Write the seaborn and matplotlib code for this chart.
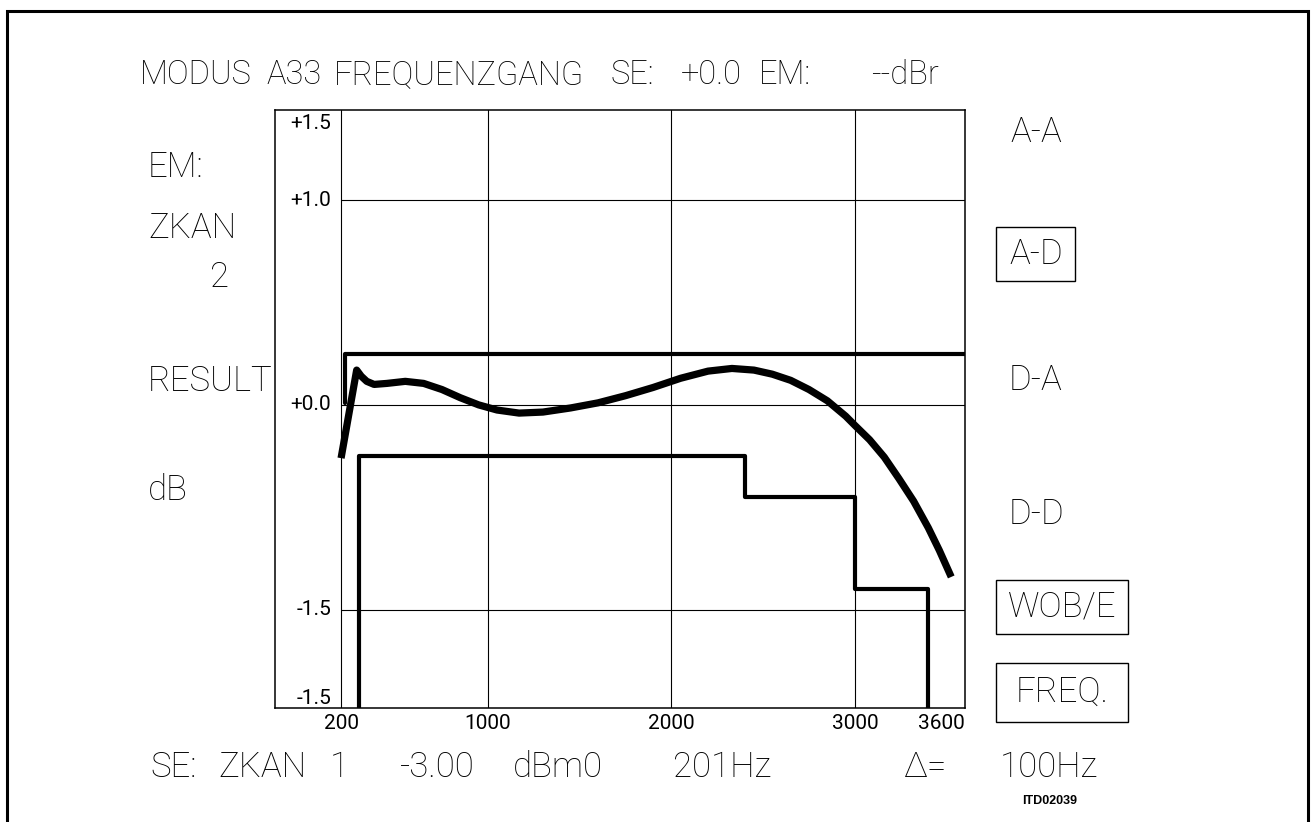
import matplotlib
matplotlib.use("Agg")
import matplotlib.pyplot as plt
from matplotlib.patches import Rectangle
import pandas as pd
import seaborn as sns

# ---- measured frequency response (Hz, dB) ----
resp_freq = [200, 285, 310, 340, 380, 450, 550, 650, 750, 850, 950, 1050, 1170,
             1300, 1450, 1600, 1750, 1900, 2050, 2200, 2330, 2450, 2550, 2650,
             2750, 2850, 2950, 3000, 3080, 3160, 3240, 3320, 3400, 3460, 3525]
resp_db = [-0.26, 0.17, 0.14, 0.115, 0.10, 0.105, 0.115, 0.105, 0.075, 0.035,
           0.0, -0.025, -0.04, -0.035, -0.015, 0.01, 0.045, 0.085, 0.13, 0.165,
           0.178, 0.17, 0.15, 0.12, 0.075, 0.02, -0.055, -0.10, -0.17, -0.255,
           -0.36, -0.47, -0.60, -0.71, -0.84]

# ---- tolerance mask ----
upper_start = 220
upper_level = 0.25
upper_floor = 0.01
lower_edges = [300, 2400, 3000, 3400]
lower_levels = [-0.25, -0.45, -0.90]

# ---- axis scale ----
x_min, x_max = -160, 3600
y_min, y_max = -1.48, 1.44
x_ticks = [200, 1000, 2000, 3000, 3600]
x_tick_labels = ["200", "1000", "2000", "3000", "3600"]
grid_x = [200, 1000, 2000, 3000]
grid_y = [1.0, 0.0, -1.0]
y_label_pos = [1.44, 1.0, 0.0, -1.0, -1.48]
y_label_txt = ["+1.5", "+1.0", "+0.0", "-1.5", "-1.5"]

# ---- screen texts ----
header = [("MODUS", 140), ("A33", 266), ("FREQUENZGANG", 334), ("SE:", 610),
          ("+0.0", 681), ("EM:", 759), ("--dBr", 871)]
left_panel = [("EM:", 148, 167), ("ZKAN", 148, 228), ("2", 210, 277),
              ("RESULT", 148, 381), ("dB", 148, 490)]
right_panel = [("A-A", 1036, 132), ("A-D", 1036, 254), ("D-A", 1036, 380),
               ("D-D", 1036, 514), ("WOB/E", 1062, 607), ("FREQ.", 1062, 692)]
footer = [("SE:", 150), ("ZKAN", 218), ("1", 330), ("-3.00", 400),
          ("dBm0", 513), ("201Hz", 673), ("\u0394=", 903), ("100Hz", 1000)]

sns.set_style("white")
FONT = ["Roboto", "DejaVu Sans"]
plt.rcParams["font.family"] = FONT
plt.rcParams["font.weight"] = "light"
plt.rcParams["text.color"] = "black"
plt.rcParams["xtick.color"] = "black"
plt.rcParams["ytick.color"] = "black"

W, H = 1311, 822
fig = plt.figure(figsize=(W / 100, H / 100), dpi=100)


def fx(x):
    return x / W


def fy(y):
    return 1 - y / H


ax = fig.add_axes([fx(275), fy(708), fx(965) - fx(275), fy(110) - fy(708)])
ax.set_xlim(x_min, x_max)
ax.set_ylim(y_min, y_max)

# grid
for gx in grid_x:
    ax.axvline(gx, color="black", lw=0.8, zorder=1)
for gy in grid_y:
    ax.hlines(gy, grid_x[0], x_max, color="black", lw=0.8, zorder=1)

# upper mask
up = pd.DataFrame({"f": [upper_start, upper_start, x_max],
                   "db": [upper_floor, upper_level, upper_level]})
sns.lineplot(data=up, x="f", y="db", sort=False, estimator=None, ax=ax,
             color="black", lw=3, zorder=3)

# lower mask (stepped)
lf, ld = [lower_edges[0]], [y_min]
for i, lev in enumerate(lower_levels):
    lf += [lower_edges[i], lower_edges[i + 1]]
    ld += [lev, lev]
lf.append(lower_edges[-1])
ld.append(y_min)
lo = pd.DataFrame({"f": lf, "db": ld})
sns.lineplot(data=lo, x="f", y="db", sort=False, estimator=None, ax=ax,
             color="black", lw=3, zorder=3)

# response curve
rs = pd.DataFrame({"f": resp_freq, "db": resp_db})
sns.lineplot(data=rs, x="f", y="db", sort=False, estimator=None, ax=ax,
             color="black", lw=5.2, zorder=4, solid_capstyle="butt")

ax.set_xlabel("")
ax.set_ylabel("")
ax.set_yticks([])
ax.set_xticks(x_ticks)
ax.set_xticklabels(x_tick_labels, fontsize=15, fontweight="normal")
ax.tick_params(axis="x", length=0, pad=4)
ax.get_xticklabels()[-1].set_horizontalalignment("right")
for s in ax.spines.values():
    s.set_color("black")
    s.set_linewidth(1.1)

for yp, yt in zip(y_label_pos, y_label_txt):
    va = "center"
    if yp == y_max:
        va = "top"
    elif yp == y_min:
        va = "bottom"
    ax.annotate(yt, xy=(grid_x[0], yp), xytext=(-7, -3 if va == "top" else 0),
                textcoords="offset points", ha="right", va=va, fontsize=15,
                fontweight="normal")

big = 25
for txt, x in header:
    fig.text(fx(x), fy(75), txt, fontsize=23.5, va="center", ha="left")

for txt, x, y in left_panel:
    fig.text(fx(x), fy(y), txt, fontsize=big, va="center", ha="left")

for txt, x, y in right_panel:
    fig.text(fx(x), fy(y), txt, fontsize=big, va="center", ha="center")
for x0, y0, x1, y1 in [(996, 227, 1075, 281), (996, 580, 1128, 634),
                       (996, 663, 1128, 722)]:
    fig.add_artist(Rectangle((fx(x0), fy(y1)), fx(x1) - fx(x0), fy(y0) - fy(y1),
                             transform=fig.transFigure, fill=False,
                             ec="black", lw=1.0))

for txt, x in footer:
    fig.text(fx(x), fy(767), txt, fontsize=big, va="center", ha="left")
fig.text(fx(1022), fy(801), "ITD02039", fontsize=9, fontweight="bold",
         family=["Liberation Sans", "DejaVu Sans"], va="center", ha="left")

# page frame
fig.add_artist(Rectangle((fx(7), fy(830)), fx(1308) - fx(7), fy(11) - fy(830),
                         transform=fig.transFigure, fill=False, ec="black",
                         lw=2.2, clip_on=False))

fig.savefig("out.png", dpi=100)
